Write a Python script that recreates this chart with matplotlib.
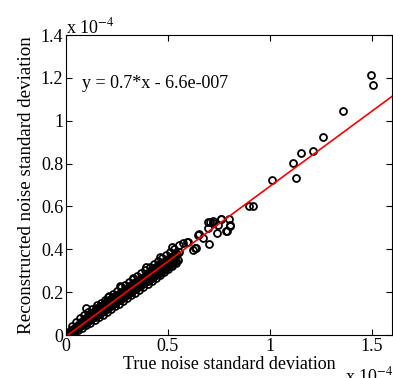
import matplotlib
matplotlib.use("Agg")
import matplotlib.pyplot as plt
import numpy as np

plt.rcParams['font.family'] = ['Liberation Serif', 'DejaVu Serif']

# values in units of 1e-4
true_sd = [
    0.005, 0.008, 0.010, 0.012, 0.015, 0.018, 0.020, 0.022, 0.025, 0.028,
    0.030, 0.033, 0.035, 0.038, 0.040, 0.042, 0.045, 0.048, 0.050, 0.052,
    0.055, 0.058, 0.060, 0.062, 0.065, 0.068, 0.070, 0.072, 0.075, 0.078,
    0.080, 0.083, 0.085, 0.088, 0.090, 0.093, 0.095, 0.098, 0.100, 0.102,
    0.105, 0.108, 0.110, 0.113, 0.115, 0.118, 0.120, 0.123, 0.125, 0.128,
    0.130, 0.133, 0.135, 0.138, 0.140, 0.143, 0.145, 0.148, 0.150, 0.153,
    0.155, 0.158, 0.160, 0.163, 0.165, 0.168, 0.170, 0.173, 0.175, 0.178,
    0.180, 0.183, 0.185, 0.188, 0.190, 0.193, 0.195, 0.198, 0.200, 0.203,
    0.205, 0.208, 0.210, 0.213, 0.215, 0.218, 0.220, 0.223, 0.225, 0.228,
    0.230, 0.233, 0.235, 0.238, 0.240, 0.243, 0.245, 0.248, 0.250, 0.253,
    0.255, 0.258, 0.260, 0.263, 0.265, 0.268, 0.270, 0.273, 0.275, 0.278,
    0.280, 0.283, 0.285, 0.288, 0.290, 0.293, 0.295, 0.298, 0.300, 0.303,
    0.305, 0.308, 0.310, 0.313, 0.315, 0.318, 0.320, 0.323, 0.325, 0.328,
    0.330, 0.333, 0.335, 0.338, 0.340, 0.343, 0.345, 0.348, 0.350, 0.353,
    0.355, 0.358, 0.360, 0.363, 0.365, 0.368, 0.370, 0.373, 0.375, 0.378,
    0.380, 0.383, 0.385, 0.388, 0.390, 0.393, 0.395, 0.398, 0.400, 0.403,
    0.405, 0.408, 0.410, 0.413, 0.415, 0.418, 0.420, 0.423, 0.425, 0.428,
    0.430, 0.433, 0.435, 0.438, 0.440, 0.443, 0.445, 0.448, 0.450, 0.453,
    0.455, 0.458, 0.460, 0.463, 0.465, 0.468, 0.470, 0.473, 0.475, 0.478,
    0.480, 0.483, 0.485, 0.488, 0.490, 0.493, 0.495, 0.498, 0.500, 0.503,
    0.505, 0.508, 0.510, 0.513, 0.515, 0.518, 0.520, 0.523, 0.525, 0.528,
    0.530, 0.535, 0.540, 0.545, 0.550, 0.555,
    # upper edge of the band
    0.03, 0.05, 0.07, 0.09, 0.11, 0.13, 0.15, 0.17, 0.19, 0.21,
    0.23, 0.25, 0.27, 0.29, 0.31, 0.33, 0.35, 0.37, 0.39, 0.41,
    0.43, 0.45, 0.47, 0.49, 0.51, 0.53,
    # lower edge of the band
    0.04, 0.06, 0.08, 0.10, 0.12, 0.14, 0.16, 0.18, 0.20, 0.22,
    0.24, 0.26, 0.28, 0.30, 0.32, 0.34, 0.36, 0.38, 0.40, 0.42,
    0.44, 0.46, 0.48, 0.50, 0.52, 0.54,
    # scattered points
    0.098, 0.145, 0.205, 0.265, 0.330, 0.395, 0.460, 0.520, 0.540,
    0.556, 0.576, 0.592, 0.600, 0.625, 0.633, 0.638, 0.650, 0.654, 0.674,
    0.698, 0.698, 0.702, 0.706, 0.720, 0.723, 0.743, 0.748, 0.759, 0.761,
    0.785, 0.789, 0.800, 0.805, 0.805, 0.900, 0.916, 1.013, 1.114, 1.130,
    1.152, 1.214, 1.260, 1.360, 1.497, 1.507,
]
reconstructed_sd = [
    0.002, 0.007, 0.004, 0.011, 0.008, 0.014, 0.010, 0.018, 0.014, 0.023,
    0.016, 0.026, 0.021, 0.030, 0.022, 0.034, 0.027, 0.038, 0.028, 0.044,
    0.034, 0.043, 0.036, 0.050, 0.041, 0.052, 0.040, 0.060, 0.047, 0.058,
    0.048, 0.066, 0.053, 0.067, 0.054, 0.075, 0.060, 0.072, 0.058, 0.083,
    0.066, 0.080, 0.066, 0.090, 0.071, 0.088, 0.072, 0.099, 0.077, 0.094,
    0.078, 0.106, 0.085, 0.101, 0.086, 0.112, 0.090, 0.108, 0.092, 0.120,
    0.096, 0.115, 0.098, 0.127, 0.103, 0.122, 0.106, 0.134, 0.109, 0.128,
    0.110, 0.142, 0.117, 0.135, 0.118, 0.150, 0.122, 0.141, 0.124, 0.157,
    0.129, 0.148, 0.130, 0.162, 0.136, 0.155, 0.138, 0.170, 0.141, 0.160,
    0.144, 0.176, 0.149, 0.167, 0.150, 0.182, 0.156, 0.175, 0.157, 0.188,
    0.162, 0.180, 0.163, 0.196, 0.167, 0.187, 0.170, 0.201, 0.175, 0.194,
    0.176, 0.208, 0.181, 0.199, 0.182, 0.216, 0.188, 0.207, 0.190, 0.220,
    0.193, 0.214, 0.196, 0.228, 0.200, 0.220, 0.201, 0.233, 0.205, 0.228,
    0.208, 0.242, 0.213, 0.234, 0.214, 0.249, 0.219, 0.241, 0.222, 0.254,
    0.226, 0.247, 0.228, 0.262, 0.232, 0.255, 0.235, 0.268, 0.238, 0.261,
    0.241, 0.273, 0.245, 0.268, 0.247, 0.282, 0.252, 0.275, 0.254, 0.289,
    0.258, 0.281, 0.261, 0.294, 0.265, 0.288, 0.268, 0.302, 0.271, 0.296,
    0.274, 0.309, 0.278, 0.302, 0.281, 0.316, 0.284, 0.309, 0.287, 0.322,
    0.291, 0.315, 0.294, 0.330, 0.297, 0.322, 0.300, 0.336, 0.304, 0.330,
    0.307, 0.343, 0.310, 0.336, 0.313, 0.351, 0.316, 0.344, 0.320, 0.356,
    0.323, 0.350, 0.326, 0.362, 0.329, 0.358, 0.333, 0.371, 0.336, 0.365,
    0.340, 0.372, 0.345, 0.380, 0.352, 0.386,
    # upper edge of the band
    0.040, 0.062, 0.078, 0.092, 0.108, 0.122, 0.138, 0.150, 0.163, 0.180,
    0.192, 0.207, 0.222, 0.235, 0.248, 0.262, 0.276, 0.290, 0.305, 0.318,
    0.330, 0.346, 0.360, 0.372, 0.388, 0.400,
    # lower edge of the band
    0.012, 0.022, 0.034, 0.046, 0.058, 0.070, 0.082, 0.094, 0.108, 0.120,
    0.134, 0.146, 0.160, 0.172, 0.186, 0.198, 0.212, 0.226, 0.238, 0.252,
    0.266, 0.280, 0.294, 0.306, 0.320, 0.334,
    # scattered points
    0.126, 0.128, 0.178, 0.228, 0.268, 0.318, 0.366, 0.409, 0.381,
    0.420, 0.431, 0.435, 0.435, 0.397, 0.407, 0.407, 0.467, 0.470, 0.453,
    0.529, 0.499, 0.425, 0.529, 0.532, 0.521, 0.475, 0.513, 0.540, 0.541,
    0.487, 0.485, 0.540, 0.509, 0.513, 0.603, 0.603, 0.725, 0.803, 0.733,
    0.849, 0.860, 0.924, 1.047, 1.213, 1.168,
]

fit_x = [0.0, 1.6]
slope = 0.7
intercept = -0.0066  # -6.6e-7 in units of 1e-4

W, H = 393, 378
fig = plt.figure(figsize=(W / 100, H / 100), dpi=100)
ax = fig.add_axes([66 / W, 1 - 335 / H, 326 / W, 300 / H])

ax.plot(true_sd, reconstructed_sd, linestyle='none', marker='o',
        markersize=5, markerfacecolor='none', markeredgecolor='black',
        markeredgewidth=1.3)
fx = np.array(fit_x)
ax.plot(fx, slope * fx + intercept, color='red', linewidth=1.2)

ax.set_xlim(0, 1.6)
ax.set_ylim(0, 1.4)
ax.set_xticks([0, 0.5, 1, 1.5])
ax.set_xticklabels(['0', '0.5', '1', '1.5'])
ax.set_yticks([0, 0.2, 0.4, 0.6, 0.8, 1.0, 1.2, 1.4])
ax.set_yticklabels(['0', '0.2', '0.4', '0.6', '0.8', '1', '1.2', '1.4'])
ax.tick_params(direction='in', top=True, right=True, length=4,
               labelsize=13, pad=2, width=0.8)
for s in ax.spines.values():
    s.set_linewidth(0.8)

ax.set_xlabel('True noise standard deviation', fontsize=13, labelpad=1)
ax.set_ylabel('Reconstructed noise standard deviation', fontsize=13.7,
              labelpad=4)

ax.text(0.05, 0.84, 'y = 0.7*x - 6.6e-007', transform=ax.transAxes,
        fontsize=13, va='center', ha='left')
fig.text(66 / W, 1 - 27 / H, r'x 10$^{-4}$', fontsize=13, ha='left',
         va='center', math_fontfamily='stix')
fig.text(345 / W, 1 - 376 / H, r'x 10$^{-4}$', fontsize=13, ha='left',
         va='center', math_fontfamily='stix')

fig.savefig('out.png', dpi=100)
